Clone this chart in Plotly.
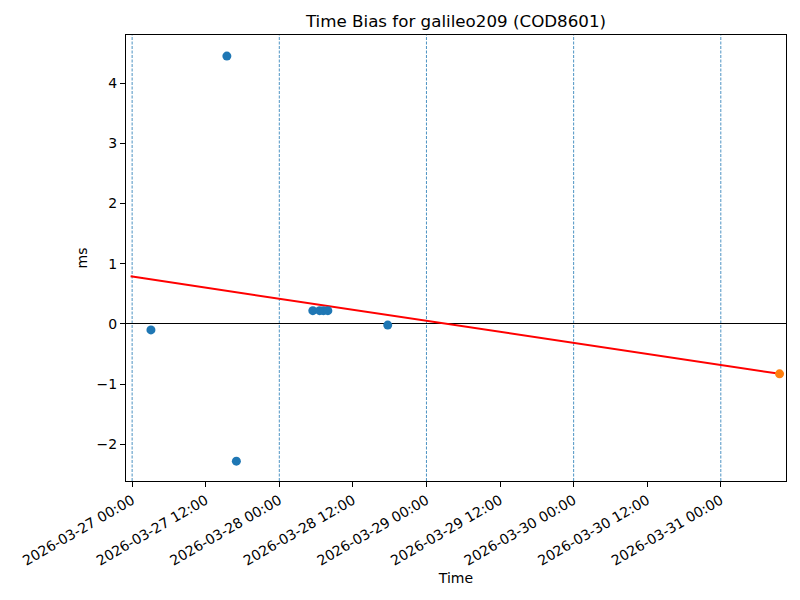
import plotly.graph_objects as go

# Data
obs_times = [
    "2026-03-27 03:04", "2026-03-27 15:27", "2026-03-27 17:00",
    "2026-03-28 05:28", "2026-03-28 06:35", "2026-03-28 07:12", "2026-03-28 07:55",
    "2026-03-28 17:41",
]
obs_ms = [-0.10, 4.45, -2.28, 0.22, 0.22, 0.22, 0.22, -0.02]

pred_time = ["2026-03-31 09:35"]
pred_ms = [-0.83]

fit_times = ["2026-03-26 23:45", "2026-03-31 09:35"]
fit_ms = [0.79, -0.83]

day_lines = ["2026-03-27", "2026-03-28", "2026-03-29", "2026-03-30", "2026-03-31"]
tick_vals = [
    "2026-03-27 00:00", "2026-03-27 12:00", "2026-03-28 00:00", "2026-03-28 12:00",
    "2026-03-29 00:00", "2026-03-29 12:00", "2026-03-30 00:00", "2026-03-30 12:00",
    "2026-03-31 00:00",
]
x_range = ["2026-03-26 23:00", "2026-03-31 10:38"]
y_range = [-2.61, 4.80]

FONT = "DejaVu Sans"

fig = go.Figure()
fig.add_trace(go.Scatter(x=fit_times, y=fit_ms, mode="lines",
                         line=dict(color="red", width=2), showlegend=False))
fig.add_trace(go.Scatter(x=obs_times, y=obs_ms, mode="markers",
                         marker=dict(color="#1f77b4", size=9), showlegend=False))
fig.add_trace(go.Scatter(x=pred_time, y=pred_ms, mode="markers",
                         marker=dict(color="#ff7f0e", size=9), showlegend=False))

for d in day_lines:
    fig.add_vline(x=d, line=dict(color="#1f77b4", width=0.8, dash="3px,1.5px"), layer="below")

fig.update_layout(
    width=800, height=600,
    margin=dict(l=118, r=22, t=27, b=127),
    plot_bgcolor="white", paper_bgcolor="white",
    font=dict(family=FONT, size=14, color="black"),
    title=dict(text="Time Bias for galileo209 (COD8601)", x=(118 + 778) / 2 / 800,
               xanchor="center", y=1 - 13 / 600, yanchor="middle",
               font=dict(size=16.7, family=FONT)),
    xaxis=dict(
        type="date", range=x_range, automargin=False,
        tickmode="array", tickvals=tick_vals, ticktext=tick_vals,
        tickangle=-30, ticks="outside", ticklen=5, tickcolor="black",
        showgrid=False, zeroline=False,
        showline=True, mirror=True, linecolor="black", linewidth=1,
        title=dict(text="Time", font=dict(size=14), standoff=5),
        tickfont=dict(size=14),
    ),
    yaxis=dict(
        range=y_range, tickmode="linear", tick0=0, dtick=1, automargin=False,
        ticks="outside", ticklen=5, tickcolor="black",
        showgrid=False, zeroline=True, zerolinecolor="black", zerolinewidth=0.8,
        showline=True, mirror=True, linecolor="black", linewidth=1,
        title=dict(text="ms", font=dict(size=14), standoff=5),
        tickfont=dict(size=14),
    ),
)

fig.write_html("out.html")
